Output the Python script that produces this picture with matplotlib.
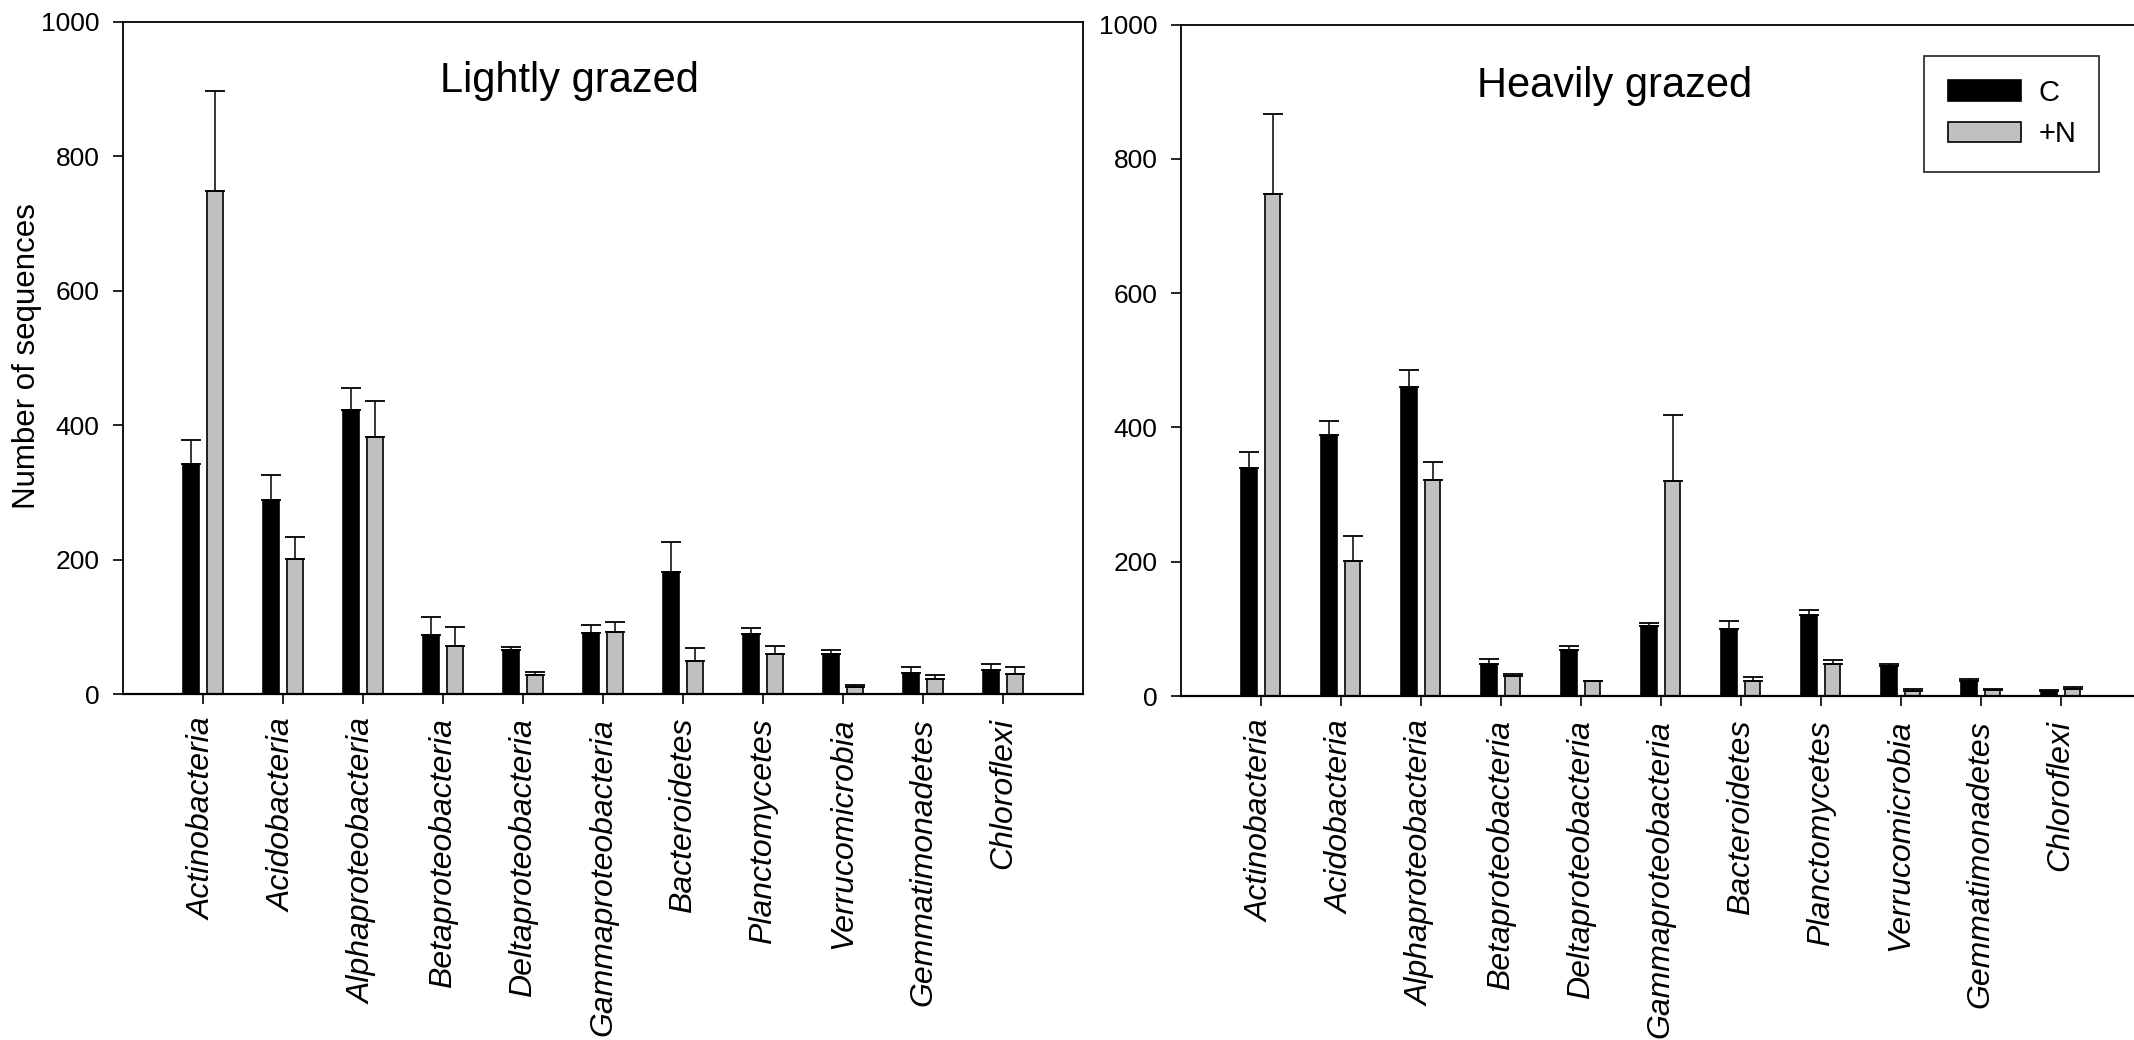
import matplotlib
matplotlib.use("Agg")
import matplotlib.pyplot as plt
import numpy as np
from matplotlib.patches import Patch

plt.rcParams['font.family'] = ['Liberation Sans', 'DejaVu Sans']

categories = ["Actinobacteria", "Acidobacteria", "Alphaproteobacteria",
              "Betaproteobacteria", "Deltaproteobacteria", "Gammaproteobacteria",
              "Bacteroidetes", "Planctomycetes", "Verrucomicrobia",
              "Gemmatimonadetes", "Chloroflexi"]

light_C = [342, 289, 422, 88, 65, 91, 181, 89, 60, 31, 35]
light_C_err = [36, 37, 33, 27, 5, 12, 45, 9, 6, 9, 9]
light_N = [748, 201, 382, 72, 28, 93, 49, 60, 10, 22, 30]
light_N_err = [149, 32, 54, 27, 4, 14, 19, 12, 4, 7, 10]

heavy_C = [339, 389, 460, 48, 68, 104, 100, 120, 44, 22, 7]
heavy_C_err = [24, 21, 26, 7, 7, 5, 11, 8, 4, 3, 2]
heavy_N = [748, 201, 322, 30, 22, 320, 22, 48, 8, 9, 11]
heavy_N_err = [118, 38, 26, 3, 1, 99, 7, 5, 2, 1, 3]

yticks = [0, 200, 400, 600, 800, 1000]
series_labels = ["C", "+N"]
titles = ["Lightly grazed", "Heavily grazed"]

W, H = 2134, 1040
fig = plt.figure(figsize=(W / 100, H / 100), dpi=100)

ax1 = fig.add_axes([123 / W, (H - 694) / H, 960 / W, 672 / H])
ax2 = fig.add_axes([1180.7 / W, (H - 696) / H, 960 / W, 671.5 / H])

gray = "#c0c0c0"
bw = 0.194
off = 0.148


def draw(ax, c, cerr, n, nerr, title, tx, ty):
    x = np.arange(len(categories))
    zeros = np.zeros(len(categories))
    ax.bar(x - off, c, width=bw, color="black", edgecolor="black", linewidth=1.2,
           label=series_labels[0], zorder=2)
    ax.bar(x + off, n, width=bw, color=gray, edgecolor="black", linewidth=1.2,
           label=series_labels[1], zorder=2)
    ax.errorbar(x - off, c, yerr=[zeros, cerr], fmt="none", ecolor="black",
                elinewidth=1.1, capsize=7.5, capthick=1.3, zorder=3)
    ax.errorbar(x + off, n, yerr=[zeros, nerr], fmt="none", ecolor="black",
                elinewidth=1.1, capsize=7.5, capthick=1.3, zorder=3)
    ax.set_xlim(-1, len(categories))
    ax.set_ylim(0, 1000)
    ax.set_yticks(yticks)
    ax.set_yticklabels([str(v) for v in yticks], fontsize=19)
    ax.set_xticks(x)
    ax.set_xticklabels(categories, rotation=90, fontsize=23, style="italic",
                       ha="center", va="top")
    ax.tick_params(axis="y", direction="out", length=7.2, width=1.2, pad=9.6)
    ax.tick_params(axis="x", direction="out", length=7.2, width=1.2, pad=10)
    for s in ax.spines.values():
        s.set_linewidth(1.3)
    ax.spines["bottom"].set_linewidth(1.6)
    ax.text(tx, ty, title, transform=ax.transAxes, fontsize=30,
            ha="center", va="baseline")


draw(ax1, light_C, light_C_err, light_N, light_N_err, titles[0], 0.465, 0.896)
draw(ax2, heavy_C, heavy_C_err, heavy_N, heavy_N_err, titles[1], 0.4517, 0.8916)
ax2.spines["right"].set_visible(False)

fig.text(27 / W, 1 - 356 / H, "Number of sequences", rotation=90,
         fontsize=22.5, ha="center", va="center")

handles = [Patch(facecolor="black", edgecolor="black", linewidth=1.2),
           Patch(facecolor=gray, edgecolor="black", linewidth=1.2)]
leg = ax2.legend(handles, series_labels, loc="upper right",
                 bbox_to_anchor=(0.957, 0.9535), borderaxespad=0,
                 fontsize=21, frameon=True, fancybox=False,
                 handlelength=2.5, handleheight=0.72, handletextpad=0.6,
                 borderpad=0.8, labelspacing=0.45)
leg.get_frame().set_edgecolor("black")
leg.get_frame().set_linewidth(1.3)

fig.savefig("out.png", dpi=100)
